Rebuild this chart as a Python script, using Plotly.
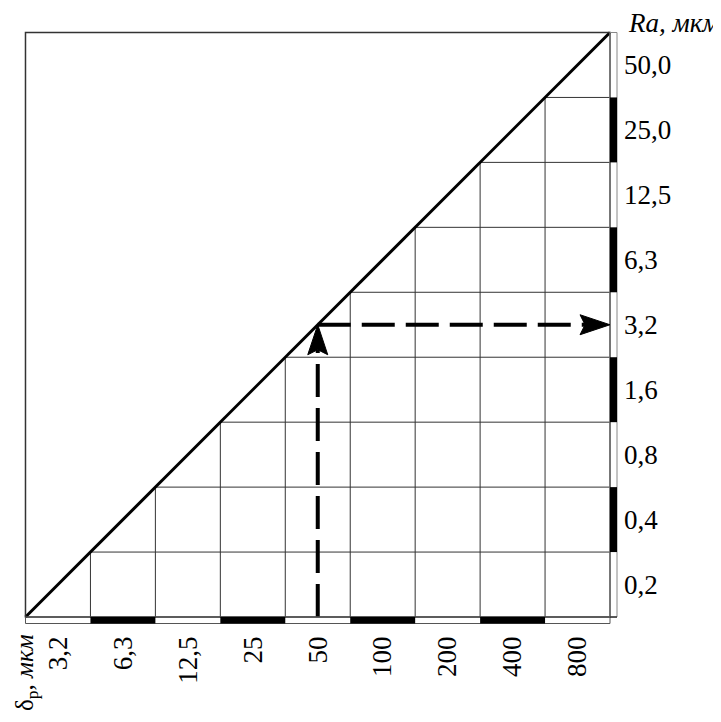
import plotly.graph_objects as go

# ---- data ----
x_labels = ["3,2", "6,3", "12,5", "25", "50", "100", "200", "400", "800"]   # δр, мкм
y_labels = ["0,2", "0,4", "0,8", "1,6", "3,2", "6,3", "12,5", "25,0", "50,0"]  # Ra, мкм
example_x = "50"    # input value
example_y = "3,2"   # read-off result

n = len(x_labels)
FONT = "Liberation Serif, Times New Roman, serif"
U = 1 / 65.0  # one pixel in data units

# page body has an 8px margin; compensate
OFF = 8
W_FIG, H_FIG = 713, 714
ML, MT = 18.5 - OFF, 25.5 - OFF
XR = [-0.1, 9.2]
YR = [-0.2, 9.1]
PW = (XR[1] - XR[0]) * 65
PH = (YR[1] - YR[0]) * 65
MR = W_FIG - ML - PW
MB = H_FIG - MT - PH


def px_to_paper_x(px):
    return (px - OFF - ML) / PW


def px_to_paper_y(py):
    return 1 - (py - OFF - MT) / PH


fig = go.Figure()

# staircase grid below the diagonal
gx, gy = [], []
for i in range(1, n):
    gx += [i, i, None]
    gy += [0, i, None]
    gx += [i, n, None]
    gy += [i, i, None]
fig.add_trace(go.Scatter(x=gx, y=gy, mode="lines",
                         line=dict(color="#333", width=1), hoverinfo="skip"))

shapes = []
# outer box
shapes.append(dict(type="rect", xref="x", yref="y", x0=0, y0=0, x1=n, y1=n,
                   line=dict(color="#333", width=1.5)))
# right strip
sw = 7 * U
shapes.append(dict(type="rect", xref="x", yref="y", x0=n, y0=0, x1=n + sw, y1=n,
                   line=dict(color="#888", width=1)))
for j in range(n):
    if j % 2 == 1:
        shapes.append(dict(type="rect", xref="x", yref="y", x0=n, y0=j, x1=n + sw, y1=j + 1,
                           fillcolor="black", line=dict(width=0)))
# bottom strip
bh = 6.5 * U
shapes.append(dict(type="rect", xref="x", yref="y", x0=0, y0=-bh, x1=n, y1=0,
                   line=dict(color="#555", width=1)))
for i in range(n):
    if i % 2 == 1:
        shapes.append(dict(type="rect", xref="x", yref="y", x0=i, y0=-bh, x1=i + 1, y1=0,
                           fillcolor="black", line=dict(width=0)))
shapes.append(dict(type="line", xref="x", yref="y", x0=n, y0=0, x1=n + sw, y1=0,
                   line=dict(color="#333", width=1.5)))

# diagonal
fig.add_trace(go.Scatter(x=[0, n], y=[0, n], mode="lines",
                         line=dict(color="black", width=3), hoverinfo="skip"))

# example path
ex = x_labels.index(example_x) + 0.5
ey = y_labels.index(example_y) + 0.5
L = 30 * U   # arrow length
W = 10 * U   # arrow half width
N = 25 * U   # notch position
dash = "33px,11px"
fig.add_trace(go.Scatter(x=[ex, ex], y=[0, ey - N], mode="lines",
                         line=dict(color="black", width=4, dash=dash), hoverinfo="skip"))
fig.add_trace(go.Scatter(x=[ex, n - N], y=[ey, ey], mode="lines",
                         line=dict(color="black", width=4, dash=dash), hoverinfo="skip"))
# arrowheads
shapes.append(dict(type="path", xref="x", yref="y",
                   path=f"M {ex} {ey} L {ex - W} {ey - L} L {ex} {ey - N} L {ex + W} {ey - L} Z",
                   fillcolor="black", line=dict(color="black", width=1)))
shapes.append(dict(type="path", xref="x", yref="y",
                   path=f"M {n} {ey} L {n - L} {ey + W} L {n - N} {ey} L {n - L} {ey - W} Z",
                   fillcolor="black", line=dict(color="black", width=1)))

fig.update_layout(
    width=W_FIG, height=H_FIG,
    margin=dict(l=ML, r=MR, t=MT, b=MB, autoexpand=False),
    paper_bgcolor="white", plot_bgcolor="white",
    showlegend=False,
    shapes=shapes,
    xaxis=dict(range=XR, showgrid=False, zeroline=False, showline=False,
               tickvals=[i + 0.5 for i in range(n)], ticktext=x_labels,
               tickangle=-90, ticks="", tickfont=dict(family=FONT, size=27, color="black"),
               fixedrange=True, automargin=False),
    yaxis=dict(range=YR, showgrid=False, zeroline=False, showline=False,
               side="right",
               tickvals=[j + 0.5 for j in range(n)], ticktext=y_labels,
               ticks="", tickfont=dict(family=FONT, size=27, color="black"),
               fixedrange=True, automargin=False),
    annotations=[
        dict(xref="paper", yref="paper", x=px_to_paper_x(626), y=px_to_paper_y(22),
             xanchor="left", yanchor="middle",
             text="<i>Ra, мкм</i>", showarrow=False,
             font=dict(family=FONT, size=27, color="black")),
        dict(xref="paper", yref="paper", x=px_to_paper_x(26), y=px_to_paper_y(632),
             xanchor="center", yanchor="top",
             text="δ<sub>р</sub>, <i>мкм</i>", textangle=-90, showarrow=False,
             font=dict(family=FONT, size=25, color="black")),
    ],
)

fig.write_html("out.html")
